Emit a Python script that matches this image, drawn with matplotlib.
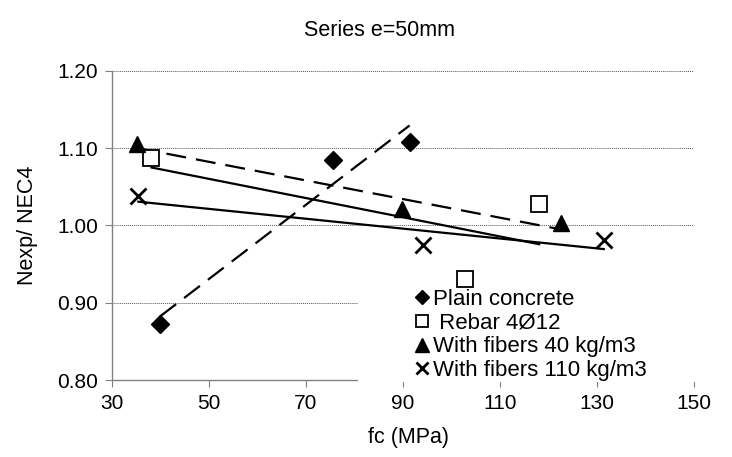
import numpy as np
import matplotlib
matplotlib.use('Agg')
import matplotlib.pyplot as plt
from matplotlib.lines import Line2D
from matplotlib.patches import Rectangle

plt.rcParams['font.family'] = ['Liberation Sans', 'DejaVu Sans']

# ---- data ----
plain_fc = [40.0, 75.6, 91.4]
plain_ratio = [0.873, 1.084, 1.108]
rebar_fc = [38.2, 102.8, 118.1]
rebar_ratio = [1.087, 0.931, 1.027]
fib40_fc = [35.2, 89.8, 122.6]
fib40_ratio = [1.105, 1.021, 1.003]
fib110_fc = [35.5, 94.2, 131.4]
fib110_ratio = [1.038, 0.974, 0.981]
series_labels = ['Plain concrete', ' Rebar 4Ø12', 'With fibers 40 kg/m3', 'With fibers 110 kg/m3']
x_ticks = [30, 50, 70, 90, 110, 130, 150]
y_ticks = [0.80, 0.90, 1.00, 1.10, 1.20]

W, H = 732, 457
fig = plt.figure(figsize=(W / 100, H / 100), dpi=100)
L, R, T, B = 111.7, 694, 70.7, 380
ax = fig.add_axes([L / W, 1 - B / H, (R - L) / W, (B - T) / H])

dash = (0, (9, 4.5))
series = [
    (plain_fc, plain_ratio, dict(marker='D', ms=9, mfc='black', mec='black'), dash),
    (rebar_fc, rebar_ratio, dict(marker='s', ms=11, mfc='white', mec='black', mew=1.3), '-'),
    (fib40_fc, fib40_ratio, dict(marker='^', ms=12, mfc='black', mec='black'), dash),
    (fib110_fc, fib110_ratio, dict(marker='x', ms=11, mec='black', mew=2.0), '-'),
]

handles = []
for (xs, ys, mk, ls), lab in zip(series, series_labels):
    xs = np.asarray(xs); ys = np.asarray(ys)
    k, b = np.polyfit(xs, ys, 1)
    xl = np.array([xs.min(), xs.max()])
    ax.plot(xl, k * xl + b, color='black', lw=1.6, linestyle=ls, zorder=3)
    ax.plot(xs, ys, linestyle='none', zorder=4, **mk)
    hmk = dict(mk)
    hmk['ms'] = mk['ms'] * 0.8
    handles.append(Line2D([], [], linestyle='none', **hmk))

ax.set_xlim(30, 150)
ax.set_ylim(0.80, 1.20)
ax.set_xticks(x_ticks)
ax.set_yticks(y_ticks)
ax.set_yticklabels([f'{v:.2f}' for v in y_ticks])
ax.yaxis.grid(True, linestyle=(0, (1, 1)), color='#555555', lw=0.7)
ax.set_axisbelow(True)
for s in ['top', 'right']:
    ax.spines[s].set_visible(False)
for s in ['left', 'bottom']:
    ax.spines[s].set_color('#808080')
    ax.spines[s].set_linewidth(1.0)
ax.tick_params(axis='both', direction='out', length=5, color='#808080', labelsize=15, pad=5)

ax.set_xlabel('fc (MPa)', fontsize=15.5)
ax.xaxis.set_label_coords((409 - L) / (R - L), -(437 - B) / (B - T), transform=ax.transAxes)
ax.xaxis.label.set_va('center')
ax.set_ylabel('Nexp/ NEC4', fontsize=15.5)
ax.yaxis.set_label_coords((28 - L) / (R - L), 0.5)
ax.yaxis.label.set_va('center')

fig.text(380 / W, 1 - 31 / H, 'Series e=50mm', ha='center', va='center', fontsize=15.5)

# white legend area (covers axis line and lower gridline like the reference)
bg = Rectangle((358 / W, 1 - 382 / H), (712 - 358) / W, (382 - 288) / H,
               transform=fig.transFigure, facecolor='white', edgecolor='none',
               zorder=6, clip_on=False)
ax.add_artist(bg)

leg = ax.legend(handles, series_labels, loc='upper left',
                bbox_to_anchor=(414 / W, 1 - 289 / H), bbox_transform=fig.transFigure,
                frameon=False, fontsize=16, handlelength=0.7, handletextpad=0.15,
                labelspacing=0.12, borderpad=0, borderaxespad=0)
leg.set_zorder(10)

fig.savefig('out.png', dpi=100)
